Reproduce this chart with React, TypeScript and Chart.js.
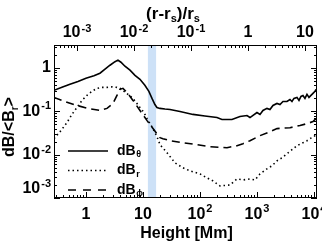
import React, { useEffect, useRef } from "react";
import { Chart, registerables } from "chart.js";

Chart.register(...registerables);

// ---- data (heights in Mm, dB/<B_r>) ----
const R_SUN_MM = 696;
const X_MIN = 0.275;
const X_MAX = 11300;
const Y_MIN = 1e-3;
const Y_MAX = 3.4;
const BAND_MM = [12.2, 17.0];

const bottomTicks = [1, 10, 100, 1000, 10000];
const topTicks = [1e-3, 1e-2, 1e-1, 1, 10];
const leftTicks = [1, 0.1, 0.01, 0.001];

const hTheta = [0.275, 0.379, 0.524, 0.724, 1, 1.38, 1.76, 2.16, 2.64, 3.23, 3.64, 4.11, 4.83, 5.92, 7.24, 8.86, 10.8, 12.7, 14.4, 16.2, 17.6, 19.9, 24.3, 29.8, 44.6, 75.4, 122, 199, 243, 364, 503, 668, 754, 1000, 1130, 1274, 1497, 1690, 1909, 2244, 2533, 2858, 3358, 3793, 4111, 4457, 5035, 5458, 5916, 6413, 6950, 7538, 8170, 8850, 9600, 10420, 10840];
const dBTheta = [0.305, 0.358, 0.42, 0.49, 0.58, 0.66, 0.76, 0.94, 1.16, 1.4, 1.52, 1.36, 1.1, 0.89, 0.68, 0.55, 0.4, 0.289, 0.199, 0.144, 0.123, 0.117, 0.113, 0.11, 0.099, 0.085, 0.078, 0.072, 0.065, 0.065, 0.076, 0.08, 0.072, 0.094, 0.085, 0.105, 0.117, 0.11, 0.137, 0.152, 0.144, 0.169, 0.169, 0.188, 0.169, 0.199, 0.21, 0.179, 0.221, 0.233, 0.199, 0.246, 0.21, 0.233, 0.26, 0.289, 0.322];

const hR = [0.275, 0.364, 0.464, 0.568, 0.695, 0.851, 1.04, 1.27, 1.56, 1.91, 2.34, 2.86, 3.5, 3.95, 4.46, 5.46, 6.68, 7.85, 8.86, 10.4, 11.8, 13.3, 15.0, 17.6, 19.9, 26.4, 36.4, 50.3, 66.8, 100, 133, 169, 224, 275, 336, 446, 568, 754, 922, 1130, 1497, 1833, 2244, 2746, 3358, 4111, 5035, 6413, 7538, 8506, 10000, 11290];
const dBR = [0.0234, 0.0359, 0.055, 0.085, 0.123, 0.179, 0.233, 0.289, 0.34, 0.358, 0.358, 0.368, 0.358, 0.34, 0.305, 0.246, 0.199, 0.152, 0.123, 0.094, 0.068, 0.052, 0.04, 0.0261, 0.017, 0.0111, 0.0065, 0.00497, 0.00423, 0.0036, 0.00291, 0.00248, 0.0019, 0.00195, 0.002, 0.00276, 0.00261, 0.00276, 0.00261, 0.0036, 0.00471, 0.00553, 0.0072, 0.00848, 0.0105, 0.013, 0.0161, 0.0189, 0.021, 0.0234, 0.0261, 0.0306];

const hPhi = [0.275, 0.428, 0.695, 1.08, 1.76, 2.34, 2.98, 3.5, 3.95, 4.46, 5.24, 6.68, 8.86, 11.8, 15.0, 19.9, 22.4, 29.8, 50.3, 88.6, 150, 298, 446, 568, 754, 1130, 1690, 2244, 3793, 5680, 7538, 9600, 10840];
const dBPhi = [0.21, 0.169, 0.137, 0.117, 0.105, 0.117, 0.152, 0.233, 0.322, 0.34, 0.274, 0.179, 0.105, 0.061, 0.04, 0.0247, 0.0234, 0.021, 0.0189, 0.017, 0.0153, 0.0145, 0.0161, 0.0179, 0.021, 0.0275, 0.034, 0.04, 0.042, 0.047, 0.052, 0.058, 0.068];

const legendLabels = [
  { base: "dB", sub: "θ", dash: [] as number[] },
  { base: "dB", sub: "r", dash: [1.5, 3] },
  { base: "dB", sub: "ϕ", dash: [8, 7] },
];

const FONT = '"Liberation Sans", Arial, Helvetica, sans-serif';
const BAND_COLOR = "#cde1f7";

function toXY(xs: number[], ys: number[]) {
  return xs.map((x, i) => ({ x, y: ys[i] }));
}

function drawPow(ctx: CanvasRenderingContext2D, v: number, x: number, y: number, align: string, raise: number) {
  const k = Math.round(Math.log10(v));
  const base = k === 0 ? "1" : "10";
  const exp = k === 0 || k === 1 ? "" : String(k);
  ctx.font = `bold 16px ${FONT}`;
  const wb = ctx.measureText(base).width;
  ctx.font = `bold 11px ${FONT}`;
  const we = exp ? ctx.measureText(exp).width + 1 : 0;
  const total = wb + we;
  const x0 = align === "center" ? x - total / 2 : x - total;
  ctx.textAlign = "left";
  ctx.textBaseline = "middle";
  ctx.font = `bold 16px ${FONT}`;
  ctx.fillText(base, x0, y);
  if (exp) {
    ctx.font = `bold 11px ${FONT}`;
    ctx.fillText(exp, x0 + wb + 1, y - raise);
  }
}

function logTicks(min: number, max: number) {
  const out: { v: number; major: boolean }[] = [];
  for (let d = Math.floor(Math.log10(min)); d <= Math.ceil(Math.log10(max)); d++) {
    for (let m = 1; m <= 9; m++) {
      const v = m * Math.pow(10, d);
      if (v >= min * 0.9999 && v <= max * 1.0001) out.push({ v, major: m === 1 });
    }
  }
  return out;
}

function drawRich(ctx: CanvasRenderingContext2D, parts: { t: string; sub?: boolean }[], cx: number, cy: number, size: number) {
  const subSize = Math.round(size * 0.65);
  let total = 0;
  for (const p of parts) {
    ctx.font = `bold ${p.sub ? subSize : size}px ${FONT}`;
    total += ctx.measureText(p.t).width;
  }
  let x = cx - total / 2;
  ctx.textAlign = "left";
  ctx.textBaseline = "middle";
  for (const p of parts) {
    ctx.font = `bold ${p.sub ? subSize : size}px ${FONT}`;
    ctx.fillText(p.t, x, p.sub ? cy + size * 0.3 : cy);
    x += ctx.measureText(p.t).width;
  }
}

const framePlugin = {
  id: "idlFrame",
  beforeDatasetsDraw(chart: any) {
    const { ctx, chartArea } = chart;
    const xs = chart.scales.x;
    const a = xs.getPixelForValue(BAND_MM[0]);
    const b = xs.getPixelForValue(BAND_MM[1]);
    ctx.save();
    ctx.fillStyle = BAND_COLOR;
    ctx.fillRect(a, chartArea.top, b - a, chartArea.bottom - chartArea.top);
    ctx.restore();
  },
  afterDatasetsDraw(chart: any) {
    const { ctx, chartArea } = chart;
    const { left, right, top, bottom } = chartArea;
    const xs = chart.scales.x;
    const x2 = chart.scales.x2;
    const ys = chart.scales.y;
    ctx.save();
    ctx.strokeStyle = "#000";
    ctx.fillStyle = "#000";
    ctx.lineWidth = 1;
    ctx.strokeRect(left + 0.5, top + 0.5, right - left - 1, bottom - top - 1);

    ctx.beginPath();
    for (const t of logTicks(X_MIN, X_MAX)) {
      const px = Math.round(xs.getPixelForValue(t.v)) + 0.5;
      const len = t.major ? 6 : 3;
      ctx.moveTo(px, bottom);
      ctx.lineTo(px, bottom - len);
    }
    for (const t of logTicks(X_MIN / R_SUN_MM, X_MAX / R_SUN_MM)) {
      const px = Math.round(x2.getPixelForValue(t.v)) + 0.5;
      const len = t.major ? 6 : 3;
      ctx.moveTo(px, top);
      ctx.lineTo(px, top + len);
    }
    for (const t of logTicks(Y_MIN, Y_MAX)) {
      const py = Math.round(ys.getPixelForValue(t.v)) + 0.5;
      const len = t.major ? 6 : 3;
      ctx.moveTo(left, py);
      ctx.lineTo(left + len, py);
      ctx.moveTo(right, py);
      ctx.lineTo(right - len, py);
    }
    ctx.stroke();

    // tick labels
    for (const v of bottomTicks) drawPow(ctx, v, xs.getPixelForValue(v), bottom + 17, "center", 6);
    for (const v of topTicks) drawPow(ctx, v, x2.getPixelForValue(v), top - 12, "center", 4);
    for (const v of leftTicks) {
      const py = Math.min(ys.getPixelForValue(v), bottom - 9);
      drawPow(ctx, v, left - 3, py, "right", 5);
    }

    // axis titles
    drawRich(ctx, [{ t: "Height [Mm]" }], (left + right) / 2 + 1, bottom + 36, 16);
    drawRich(ctx, [{ t: "(r-r" }, { t: "s", sub: true }, { t: ")/r" }, { t: "s", sub: true }], 173, 14, 17);
    ctx.save();
    ctx.translate(10, 127);
    ctx.rotate(-Math.PI / 2);
    drawRich(ctx, [{ t: "dB/<B" }, { t: "r", sub: true }, { t: ">" }], 0, 0, 16);
    ctx.restore();

    // legend
    const rows = [151, 170.5, 190];
    legendLabels.forEach((l, i) => {
      const y = rows[i];
      ctx.beginPath();
      ctx.lineWidth = 1.6;
      ctx.setLineDash(l.dash);
      ctx.moveTo(68, y);
      ctx.lineTo(108, y);
      ctx.stroke();
      ctx.setLineDash([]);
      ctx.textAlign = "left";
      ctx.textBaseline = "middle";
      ctx.font = `bold 14px ${FONT}`;
      ctx.fillText(l.base, 117, y);
      const w = ctx.measureText(l.base).width;
      ctx.font = `bold 9px ${FONT}`;
      ctx.fillText(l.sub, 117 + w + 0.5, y + 4);
    });
    ctx.restore();
  },
};

export default function App() {
  const ref = useRef<HTMLCanvasElement | null>(null);
  useEffect(() => {
    if (!ref.current) return;
    const chart = new Chart(ref.current, {
      type: "line",
      data: {
        datasets: [
          { label: "dBθ", data: toXY(hTheta, dBTheta), borderColor: "#000", borderWidth: 1.6, pointRadius: 0, tension: 0 },
          { label: "dBr", data: toXY(hR, dBR), borderColor: "#000", borderWidth: 1.6, borderDash: [1.5, 3], pointRadius: 0, tension: 0 },
          { label: "dBϕ", data: toXY(hPhi, dBPhi), borderColor: "#000", borderWidth: 1.6, borderDash: [8, 5], pointRadius: 0, tension: 0 },
        ],
      },
      options: {
        animation: false,
        responsive: true,
        maintainAspectRatio: false,
        layout: { padding: { left: 54, top: 45, right: 5, bottom: 45 } },
        plugins: { legend: { display: false }, tooltip: { enabled: false }, title: { display: false } },
        scales: {
          x: { type: "logarithmic", min: X_MIN, max: X_MAX, display: false },
          x2: { type: "logarithmic", position: "top", min: X_MIN / R_SUN_MM, max: X_MAX / R_SUN_MM, display: false },
          y: { type: "logarithmic", min: Y_MIN, max: Y_MAX, display: false },
        },
      },
      plugins: [framePlugin],
    } as any);
    return () => chart.destroy();
  }, []);
  return (
    <div style={{ position: "fixed", left: 0, top: 0, width: 322, height: 243, background: "#fff" }}>
      <canvas ref={ref} />
    </div>
  );
}
